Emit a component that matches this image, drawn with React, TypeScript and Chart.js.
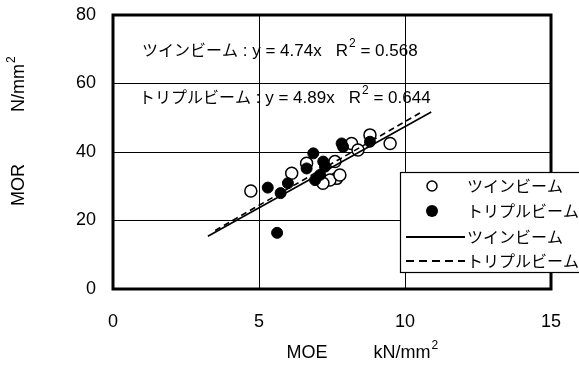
import React, { useEffect, useRef } from "react";
import { Chart, registerables } from "chart.js";

Chart.register(...registerables);

const seriesNames = ["ツインビーム", "トリプルビーム"];
const equations = ["y = 4.74x", "y = 4.89x"];
const r2Values = ["0.568", "0.644"];

const twinMOE = [4.72, 6.12, 6.63, 7.6, 7.66, 7.43, 7.19, 7.77, 8.17, 8.39, 8.8, 9.49];
const twinMOR = [28.6, 33.8, 36.7, 37.2, 32.3, 31.8, 30.9, 33.3, 42.5, 40.6, 45.0, 42.5];

const tripleMOE = [5.3, 5.74, 5.99, 5.62, 6.86, 6.63, 7.2, 7.26, 6.92, 7.09, 7.83, 7.88, 8.8];
const tripleMOR = [29.6, 28.0, 30.9, 16.4, 39.6, 35.2, 37.2, 35.7, 31.8, 33.3, 42.5, 41.5, 43.0];

const twinFitMOE = [3.25, 10.9];
const twinFitMOR = [15.4, 51.7];
const tripleFitMOE = [3.5, 10.6];
const tripleFitMOR = [17.1, 51.8];

const xTickValues = [0, 5, 10, 15];
const yTickValues = [0, 20, 40, 60, 80];

const LATIN = '"Liberation Sans", Arial, "Noto Sans CJK JP", sans-serif';
const CJK = '"Noto Sans CJK JP", "Liberation Sans", sans-serif';

const zip = (xs: number[], ys: number[]) => xs.map((x, i) => ({ x, y: ys[i] }));

const framePlugin = {
  id: "frame",
  beforeDatasetsDraw(chart: any) {
    const { ctx, chartArea: a } = chart;
    ctx.save();
    ctx.strokeStyle = "#000";
    ctx.lineWidth = 3;
    ctx.strokeRect(a.left, a.top, a.right - a.left, a.bottom - a.top);
    ctx.restore();
  },
};

function drawR2Line(ctx: any, x: number, y: number, name: string, eq: string, r2: string) {
  ctx.textBaseline = "middle";
  ctx.textAlign = "left";
  ctx.font = `16px ${CJK}`;
  ctx.fillText(name, x, y);
  x += ctx.measureText(name).width;
  ctx.font = `17px ${LATIN}`;
  const part1 = ` : ${eq}   R`;
  ctx.fillText(part1, x, y + 1);
  x += ctx.measureText(part1).width;
  ctx.font = `12px ${LATIN}`;
  ctx.fillText("2", x + 1, y - 6);
  x += ctx.measureText("2").width + 1;
  ctx.font = `17px ${LATIN}`;
  ctx.fillText(` = ${r2}`, x, y + 1);
}

const overlayPlugin = {
  id: "overlay",
  afterDraw(chart: any) {
    const ctx = chart.ctx;
    ctx.save();
    ctx.fillStyle = "#000";
    drawR2Line(ctx, 142, 50, seriesNames[0], equations[0], r2Values[0]);
    drawR2Line(ctx, 139, 97, seriesNames[1], equations[1], r2Values[1]);

    ctx.font = `18px ${LATIN}`;
    ctx.textBaseline = "middle";
    ctx.textAlign = "center";
    ctx.fillText("MOE", 307, 353);
    ctx.fillText("kN/mm", 402, 353);
    const w = ctx.measureText("kN/mm").width;
    ctx.font = `12px ${LATIN}`;
    ctx.textAlign = "left";
    ctx.fillText("2", 402 + w / 2 + 1, 346);

    ctx.save();
    ctx.translate(19, 0);
    ctx.rotate(-Math.PI / 2);
    ctx.font = `18px ${LATIN}`;
    ctx.textAlign = "center";
    ctx.fillText("MOR", -185, 0);
    ctx.fillText("N/mm", -88, 0);
    const w2 = ctx.measureText("N/mm").width;
    ctx.font = `12px ${LATIN}`;
    ctx.textAlign = "left";
    ctx.fillText("2", -88 + w2 / 2 + 1, -7);
    ctx.restore();

    const lx = 400, ly = 172, lw = 190, lh = 100;
    ctx.fillStyle = "#fff";
    ctx.fillRect(lx, ly, lw, lh);
    ctx.strokeStyle = "#000";
    ctx.lineWidth = 1.2;
    ctx.strokeRect(lx + 0.5, ly + 0.5, lw, lh);
    const rows = [186, 211, 237, 261];
    ctx.beginPath();
    ctx.arc(432, rows[0], 5, 0, Math.PI * 2);
    ctx.fillStyle = "#fff";
    ctx.fill();
    ctx.lineWidth = 1.5;
    ctx.stroke();
    ctx.beginPath();
    ctx.arc(432, rows[1], 6, 0, Math.PI * 2);
    ctx.fillStyle = "#000";
    ctx.fill();
    ctx.lineWidth = 2;
    ctx.beginPath();
    ctx.moveTo(406, rows[2]);
    ctx.lineTo(465, rows[2]);
    ctx.stroke();
    ctx.setLineDash([8, 5]);
    ctx.beginPath();
    ctx.moveTo(406, rows[3]);
    ctx.lineTo(465, rows[3]);
    ctx.stroke();
    ctx.setLineDash([]);
    ctx.fillStyle = "#000";
    ctx.font = `16px ${CJK}`;
    ctx.textAlign = "left";
    ctx.textBaseline = "middle";
    ctx.fillText(seriesNames[0], 467, rows[0]);
    ctx.fillText(seriesNames[1], 467, rows[1]);
    ctx.fillText(seriesNames[0], 467, rows[2]);
    ctx.fillText(seriesNames[1], 467, rows[3]);
    ctx.restore();
  },
};

export default function App() {
  const ref = useRef<HTMLCanvasElement | null>(null);

  useEffect(() => {
    document.body.style.margin = "0";
    const canvas = ref.current;
    if (!canvas) return;
    const chart = new Chart(canvas, {
      type: "scatter",
      data: {
        datasets: [
          {
            label: seriesNames[0] + " fit",
            data: zip(twinFitMOE, twinFitMOR),
            showLine: true,
            borderColor: "#000",
            borderWidth: 1.6,
            pointRadius: 0,
            fill: false,
          },
          {
            label: seriesNames[1] + " fit",
            data: zip(tripleFitMOE, tripleFitMOR),
            showLine: true,
            borderColor: "#000",
            borderWidth: 1.6,
            borderDash: [6, 4],
            pointRadius: 0,
            fill: false,
          },
          {
            label: seriesNames[1],
            data: zip(tripleMOE, tripleMOR),
            backgroundColor: "#000",
            borderColor: "#000",
            borderWidth: 1,
            pointRadius: 5.5,
          },
          {
            label: seriesNames[0],
            data: zip(twinMOE, twinMOR),
            backgroundColor: "#fff",
            borderColor: "#000",
            borderWidth: 1.5,
            pointRadius: 6,
          },
        ],
      },
      options: {
        responsive: false,
        animation: false,
        events: [],
        layout: { padding: { top: 15, right: 28, left: 0, bottom: 0 } },
        plugins: {
          legend: { display: false },
          tooltip: { enabled: false },
          title: { display: false },
        },
        scales: {
          x: {
            type: "linear",
            min: 0,
            max: 15,
            afterFit: (s: any) => {
              s.height = 83;
              s.paddingLeft = 0;
              s.paddingRight = 0;
            },
            afterBuildTicks: (s: any) => {
              s.ticks = xTickValues.map((v) => ({ value: v }));
            },
            border: { display: false },
            grid: { color: "#000", lineWidth: 1, drawTicks: false },
            ticks: {
              padding: 22,
              color: "#000",
              font: { family: LATIN, size: 18 },
              maxRotation: 0,
            },
          },
          y: {
            type: "linear",
            min: 0,
            max: 80,
            afterFit: (s: any) => {
              s.width = 113;
              s.paddingTop = 0;
              s.paddingBottom = 0;
            },
            afterBuildTicks: (s: any) => {
              s.ticks = yTickValues.map((v) => ({ value: v }));
            },
            border: { display: false },
            grid: { color: "#000", lineWidth: 1, drawTicks: false },
            ticks: {
              padding: 17,
              color: "#000",
              font: { family: LATIN, size: 18 },
            },
          },
        },
      },
      plugins: [framePlugin, overlayPlugin],
    } as any);
    return () => chart.destroy();
  }, []);

  return (
    <div style={{ position: "fixed", left: 0, top: 0, width: 579, height: 372, background: "#fff" }}>
      <canvas ref={ref} width={579} height={372} style={{ width: 579, height: 372, display: "block" }} />
    </div>
  );
}
